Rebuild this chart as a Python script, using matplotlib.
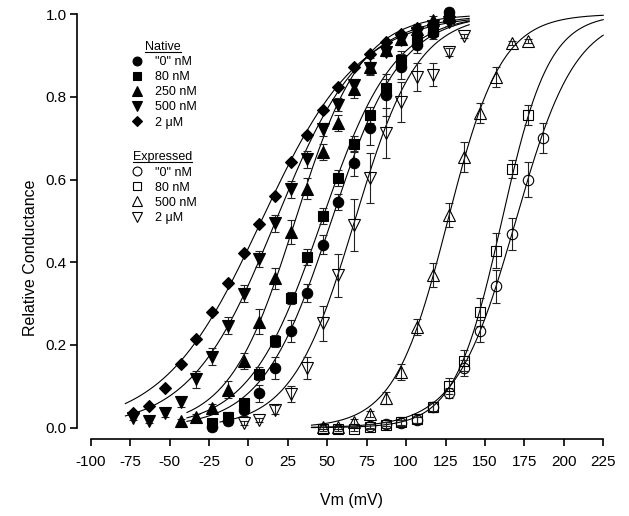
import numpy as np
import matplotlib.pyplot as plt
from matplotlib.lines import Line2D

plt.rcParams['font.family'] = ['Liberation Sans', 'DejaVu Sans']
plt.rcParams['axes.unicode_minus'] = False

# Native channels (filled symbols): voltage (mV), relative conductance, error
nat0_v = [-23, -13, -3, 7, 17, 27, 37, 47, 57, 67, 77, 87, 97, 107, 117, 127]
nat0_g = [0.002, 0.016, 0.044, 0.083, 0.144, 0.234, 0.326, 0.442, 0.546, 0.639,
          0.724, 0.804, 0.873, 0.925, 0.955, 1.005]
nat0_e = [0.01, 0.01, 0.015, 0.02, 0.027, 0.027, 0.022, 0.023, 0.02, 0.03,
          0.04, 0.05, 0.03, 0.02, 0.015, 0.01]

nat80_v = [-23, -13, -3, 7, 17, 27, 37, 47, 57, 67, 77, 87, 97, 107, 117, 127]
nat80_g = [0.011, 0.027, 0.060, 0.131, 0.209, 0.313, 0.413, 0.512, 0.604, 0.686,
           0.756, 0.822, 0.890, 0.935, 0.96, 0.99]
nat80_e = [0.005, 0.01, 0.01, 0.015, 0.015, 0.015, 0.02, 0.02, 0.02, 0.02,
           0.02, 0.02, 0.02, 0.015, 0.01, 0.01]

nat250_v = [-43, -33, -23, -13, -3, 7, 17, 27, 37, 47, 57, 67, 77, 87, 97, 107, 117, 127]
nat250_g = [0.017, 0.025, 0.048, 0.092, 0.161, 0.256, 0.361, 0.473, 0.578, 0.667,
            0.737, 0.818, 0.873, 0.913, 0.94, 0.965, 0.985, 0.995]
nat250_e = [0.005, 0.008, 0.01, 0.02, 0.02, 0.03, 0.025, 0.03, 0.025, 0.02,
            0.02, 0.02, 0.02, 0.015, 0.015, 0.01, 0.01, 0.01]

nat500_v = [-73, -63, -53, -43, -33, -23, -13, -3, 7, 17, 27, 37, 47, 57, 67, 77,
            87, 97, 107, 117, 127]
nat500_g = [0.023, 0.016, 0.035, 0.063, 0.117, 0.172, 0.247, 0.324, 0.408, 0.494,
            0.576, 0.649, 0.721, 0.781, 0.828, 0.869, 0.909, 0.937, 0.955, 0.97, 0.98]
nat500_e = [0.005, 0.005, 0.008, 0.012, 0.02, 0.02, 0.02, 0.02, 0.02, 0.02,
            0.02, 0.02, 0.015, 0.015, 0.015, 0.015, 0.01, 0.01, 0.01, 0.01, 0.01]

nat2u_v = [-73, -63, -53, -43, -33, -23, -13, -3, 7, 17, 27, 37, 47, 57, 67, 77,
           87, 97, 107, 117, 127]
nat2u_g = [0.035, 0.052, 0.097, 0.154, 0.214, 0.280, 0.350, 0.423, 0.492, 0.561,
           0.642, 0.708, 0.768, 0.824, 0.873, 0.903, 0.933, 0.951, 0.966, 0.976, 0.985]

# Expressed channels (open symbols)
exp0_v = [77, 87, 97, 107, 117, 127, 137, 147, 157, 167, 177, 187]
exp0_g = [0.005, 0.009, 0.012, 0.019, 0.051, 0.085, 0.144, 0.234, 0.342, 0.468,
          0.600, 0.700]
exp0_e = [0.005, 0.005, 0.006, 0.008, 0.01, 0.012, 0.02, 0.026, 0.04, 0.038,
          0.042, 0.036]

exp80_v = [47, 57, 67, 77, 87, 97, 107, 117, 127, 137, 147, 157, 167, 177]
exp80_g = [-0.004, -0.003, -0.004, 0.002, 0.007, 0.015, 0.022, 0.051, 0.101, 0.162,
           0.280, 0.428, 0.625, 0.756]
exp80_e = [0.005, 0.005, 0.005, 0.006, 0.008, 0.01, 0.01, 0.012, 0.02, 0.026,
           0.034, 0.042, 0.022, 0.024]

exp500_v = [47, 57, 67, 77, 87, 97, 107, 117, 127, 137, 147, 157, 167, 177]
exp500_g = [0.001, 0.002, 0.015, 0.033, 0.072, 0.135, 0.243, 0.369, 0.514, 0.655,
            0.761, 0.848, 0.931, 0.935]
exp500_e = [0.005, 0.005, 0.006, 0.008, 0.015, 0.02, 0.02, 0.03, 0.03, 0.036,
            0.024, 0.024, 0.005, 0.005]

exp2u_v = [-3, 7, 17, 27, 37, 47, 57, 67, 77, 87, 97, 107, 117, 127, 137]
exp2u_g = [0.011, 0.018, 0.044, 0.081, 0.144, 0.252, 0.369, 0.490, 0.603, 0.712,
           0.788, 0.848, 0.853, 0.909, 0.947]
exp2u_e = [0.005, 0.005, 0.01, 0.02, 0.027, 0.043, 0.052, 0.063, 0.06, 0.06,
           0.048, 0.033, 0.028, 0.01, 0.005]

# Boltzmann fit parameters: V1/2 (mV), slope (mV), drawn range (mV)
fit_vhalf = [52.6, 46.5, 29.6, 17.3, 8.2, 169.5, 160.7, 126.4, 67.4]
fit_slope = [22, 23, 21, 27, 31, 19, 15, 17, 20]
fit_start = [-39, -39, -39, -78, -78, 40, 40, 40, -18]
fit_end = [140, 140, 140, 140, 140, 225, 225, 225, 140]

native_labels = ['"0" nM', '80 nM', '250 nM', '500 nM', '2 \u03bcM']
expressed_labels = ['"0" nM', '80 nM', '500 nM', '2 \u03bcM']

x_ticks = list(range(-100, 226, 25))
y_ticks = [0.0, 0.2, 0.4, 0.6, 0.8, 1.0]


def boltzmann(v, vh, k):
    return 1.0 / (1.0 + np.exp((vh - v) / k))


fig = plt.figure(figsize=(6.29, 5.16), dpi=100)
ax = fig.add_axes([0.1442, 0.1711, 0.8148, 0.8017])

for vh, k, a, b in zip(fit_vhalf, fit_slope, fit_start, fit_end):
    v = np.linspace(a, b, 300)
    ax.plot(v, boltzmann(v, vh, k), color='black', lw=0.8, clip_on=False, zorder=2)

series = [
    (nat0_v, nat0_g, nat0_e, 'o', 7.5, 'black'),
    (nat80_v, nat80_g, nat80_e, 's', 6.5, 'black'),
    (nat250_v, nat250_g, nat250_e, '^', 8, 'black'),
    (nat500_v, nat500_g, nat500_e, 'v', 8, 'black'),
    (nat2u_v, nat2u_g, None, 'D', 6.5, 'black'),
    (exp0_v, exp0_g, exp0_e, 'o', 7.5, 'none'),
    (exp80_v, exp80_g, exp80_e, 's', 6.5, 'none'),
    (exp500_v, exp500_g, exp500_e, '^', 8, 'none'),
    (exp2u_v, exp2u_g, exp2u_e, 'v', 8, 'none'),
]

handles = []
for v, g, e, m, ms, fc in series:
    if e is not None:
        eb = ax.errorbar(v, g, yerr=e, fmt='none', ecolor='#222222', elinewidth=0.8,
                         capsize=3, capthick=0.8, zorder=3)
        for art in eb.get_children():
            art.set_clip_on(False)
    h, = ax.plot(v, g, linestyle='none', marker=m, ms=ms, mfc=fc, mec='black',
                 mew=0.8, clip_on=False, zorder=4)
    handles.append(h)

ax.set_xlim(-100, 225)
ax.set_ylim(0, 1.0)
ax.set_xticks(x_ticks)
ax.set_yticks(y_ticks)
ax.set_yticklabels(['%.1f' % t for t in y_ticks])

for side in ['top', 'right']:
    ax.spines[side].set_visible(False)
ax.spines['left'].set_position(('outward', 9.6))
ax.spines['bottom'].set_position(('outward', 8))
ax.spines['left'].set_bounds(0, 1.0)
ax.spines['bottom'].set_bounds(-100, 225)
for side in ['left', 'bottom']:
    ax.spines[side].set_linewidth(1.2)
ax.tick_params(direction='out', length=4.8, width=1.2, labelsize=11)
ax.tick_params(axis='x', pad=6.5)
ax.tick_params(axis='y', pad=3)

ax.set_ylabel('Relative Conductance', fontsize=11.5)
ax.set_xlabel('Vm (mV)', fontsize=11.5)
ax.yaxis.set_label_coords(-0.103, 0.41)
ax.xaxis.set_label_coords(0.508, -0.158)

leg_kw = dict(frameon=False, fontsize=9, title_fontsize=9, handlelength=1.2,
              handletextpad=0.85, labelspacing=0.25, borderpad=0, borderaxespad=0,
              markerscale=0.85)
leg1 = ax.legend(handles[:5], native_labels, title='Native', loc='upper left',
                 bbox_to_anchor=(0.075, 0.935), **leg_kw)
ax.add_artist(leg1)
leg2 = ax.legend(handles[5:], expressed_labels, title='Expressed', loc='upper left',
                 bbox_to_anchor=(0.075, 0.668), **leg_kw)

# underline the legend titles
fig.canvas.draw()
inv = fig.transFigure.inverted()
for leg in (leg1, leg2):
    bb = leg.get_title().get_window_extent()
    (x0, y0), (x1, _) = inv.transform([[bb.x0, bb.y0], [bb.x1, bb.y1]])
    fig.add_artist(Line2D([x0, x1], [y0 + 0.002, y0 + 0.002], color='black', lw=0.8))

fig.savefig('out.png', dpi=100)
